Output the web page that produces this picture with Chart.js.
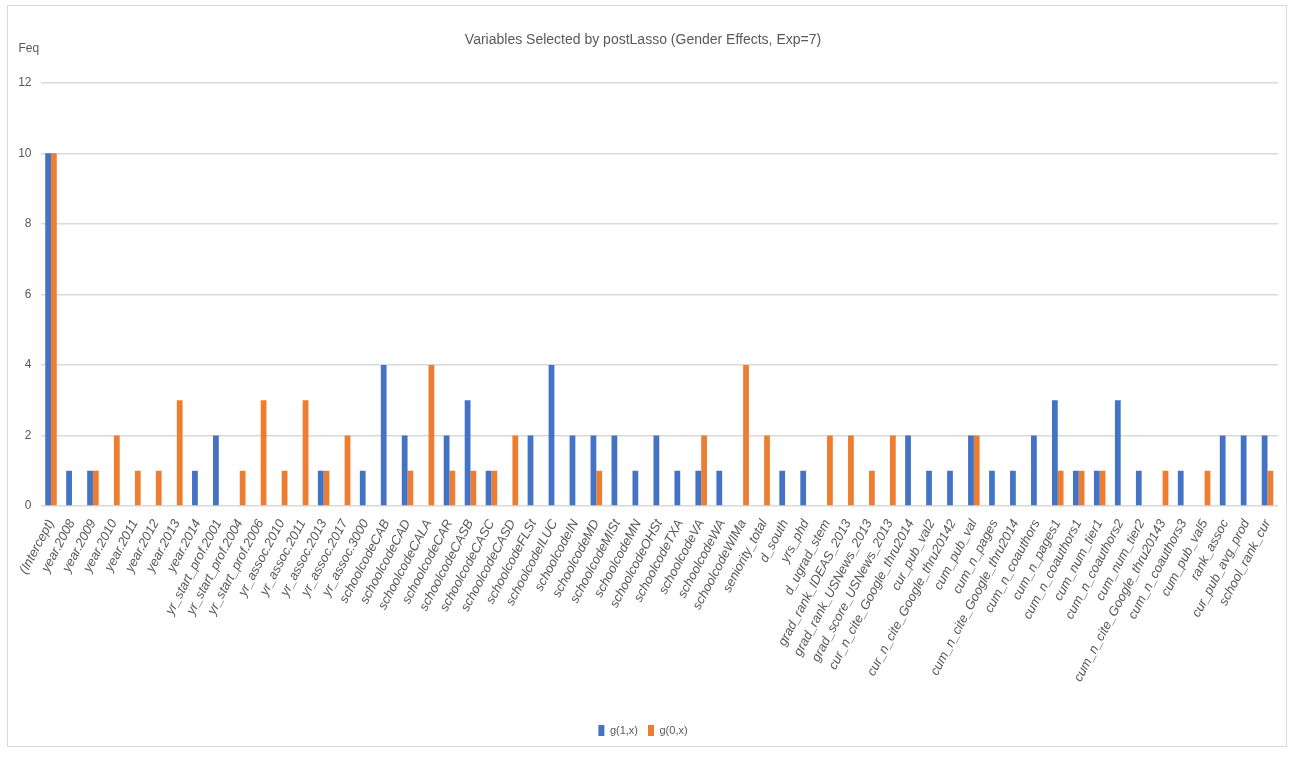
<!DOCTYPE html>
<html>
<head>
<meta charset="utf-8">
<script src="https://cdn.jsdelivr.net/npm/chart.js@4"></script>
<style>
  body { margin: 0; background: #fff; }
  #wrap { position: absolute; left: 7px; top: 5px; width: 1278px; height: 740px; border: 1px solid #d9d9d9; }
</style>
</head>
<body>
<div id="wrap"><canvas id="chart"></canvas></div>
<script>
// categorías (variables seleccionadas)
const categories = [
  '(Intercept)', 'year.2008', 'year.2009', 'year.2010', 'year.2011', 'year.2012', 'year.2013', 'year.2014',
  'yr_start_prof.2001', 'yr_start_prof.2004', 'yr_start_prof.2006',
  'yr_assoc.2010', 'yr_assoc.2011', 'yr_assoc.2013', 'yr_assoc.2017', 'yr_assoc.3000',
  'schoolcodeCAB', 'schoolcodeCAD', 'schoolcodeCALA', 'schoolcodeCAR', 'schoolcodeCASB', 'schoolcodeCASC',
  'schoolcodeCASD', 'schoolcodeFLSt', 'schoolcodeILUC', 'schoolcodeIN', 'schoolcodeMD', 'schoolcodeMISt',
  'schoolcodeMN', 'schoolcodeOHSt', 'schoolcodeTXA', 'schoolcodeVA', 'schoolcodeWA', 'schoolcodeWIMa',
  'seniority_total', 'd_south', 'yrs_phd', 'd_ugrad_stem', 'grad_rank_IDEAS_2013', 'grad_rank_USNews_2013',
  'grad_score_USNews_2013', 'cur_n_cite_Google_thru2014', 'cur_pub_val2', 'cur_n_cite_Google_thru20142',
  'cum_pub_val', 'cum_n_pages', 'cum_n_cite_Google_thru2014', 'cum_n_coauthors', 'cum_n_pages1',
  'cum_n_coauthors1', 'cum_num_tier1', 'cum_n_coauthors2', 'cum_num_tier2', 'cum_n_cite_Google_thru20143',
  'cum_n_coauthors3', 'cum_pub_val5', 'rank_assoc', 'cur_pub_avg_prod', 'school_rank_cur'
];

// g(1,x)
const g1 = [
  10, 1, 1, 0, 0, 0, 0, 1,
  2, 0, 0,
  0, 0, 1, 0, 1,
  4, 2, 0, 2, 3, 1,
  0, 2, 4, 2, 2, 2,
  1, 2, 1, 1, 1, 0,
  0, 1, 1, 0, 0, 0,
  0, 2, 1, 1,
  2, 1, 1, 2, 3,
  1, 1, 3, 1, 0,
  1, 0, 2, 2, 2
];

// g(0,x)
const g0 = [
  10, 0, 1, 2, 1, 1, 3, 0,
  0, 1, 3,
  1, 3, 1, 2, 0,
  0, 1, 4, 1, 1, 1,
  2, 0, 0, 0, 1, 0,
  0, 0, 0, 2, 0, 4,
  2, 0, 0, 2, 2, 1,
  2, 0, 0, 0,
  2, 0, 0, 0, 1,
  1, 1, 0, 0, 1,
  0, 1, 0, 0, 1
];

const yTicks = [0, 2, 4, 6, 8, 10, 12];

const gray = '#595959';
const fontFam = "'Liberation Sans Narrow', 'Liberation Sans', sans-serif";

// texto "Feq" arriba del eje Y
const feqLabel = {
  id: 'feqLabel',
  afterDraw(chart) {
    const ctx = chart.ctx;
    ctx.save();
    ctx.fillStyle = gray;
    ctx.font = '12px ' + fontFam;
    ctx.textBaseline = 'middle';
    ctx.fillText('Feq', chart.chartArea.left - 22, chart.chartArea.top - 34);
    ctx.restore();
  }
};

new Chart(document.getElementById('chart'), {
  type: 'bar',
  data: {
    labels: categories,
    datasets: [
      { label: 'g(1,x)', data: g1, backgroundColor: '#4472C4' },
      { label: 'g(0,x)', data: g0, backgroundColor: '#ED7D31' }
    ]
  },
  options: {
    responsive: true,
    maintainAspectRatio: false,
    animation: false,
    datasets: { bar: { categoryPercentage: 0.55, barPercentage: 1.0 } },
    layout: { padding: { left: 0, right: 8, top: 0, bottom: 0 } },
    plugins: {
      title: {
        display: true,
        text: 'Variables Selected by postLasso (Gender Effects, Exp=7)',
        color: gray,
        font: { family: fontFam, size: 14, weight: 'normal' },
        padding: { top: 26, bottom: 34 }
      },
      legend: {
        position: 'bottom',
        labels: {
          boxWidth: 6,
          boxHeight: 11,
          padding: 10,
          color: gray,
          font: { family: fontFam, size: 11 }
        }
      },
      tooltip: { enabled: false }
    },
    scales: {
      x: {
        grid: { display: false },
        border: { display: false },
        ticks: {
          autoSkip: false,
          minRotation: 62,
          maxRotation: 62,
          color: gray,
          font: { family: fontFam, size: 13, style: 'italic' }
        },
        afterFit(scale) { scale.height = 209; }
      },
      y: {
        min: 0,
        max: 12,
        afterBuildTicks(scale) { scale.ticks = yTicks.map(v => ({ value: v })); },
        grid: { color: '#d9d9d9', lineWidth: 1.5, drawTicks: false },
        border: { display: false },
        ticks: {
          padding: 9,
          color: gray,
          font: { family: fontFam, size: 12 }
        },
        afterFit(scale) { scale.width = 32.5; }
      }
    }
  },
  plugins: [feqLabel]
});
</script>
</body>
</html>
